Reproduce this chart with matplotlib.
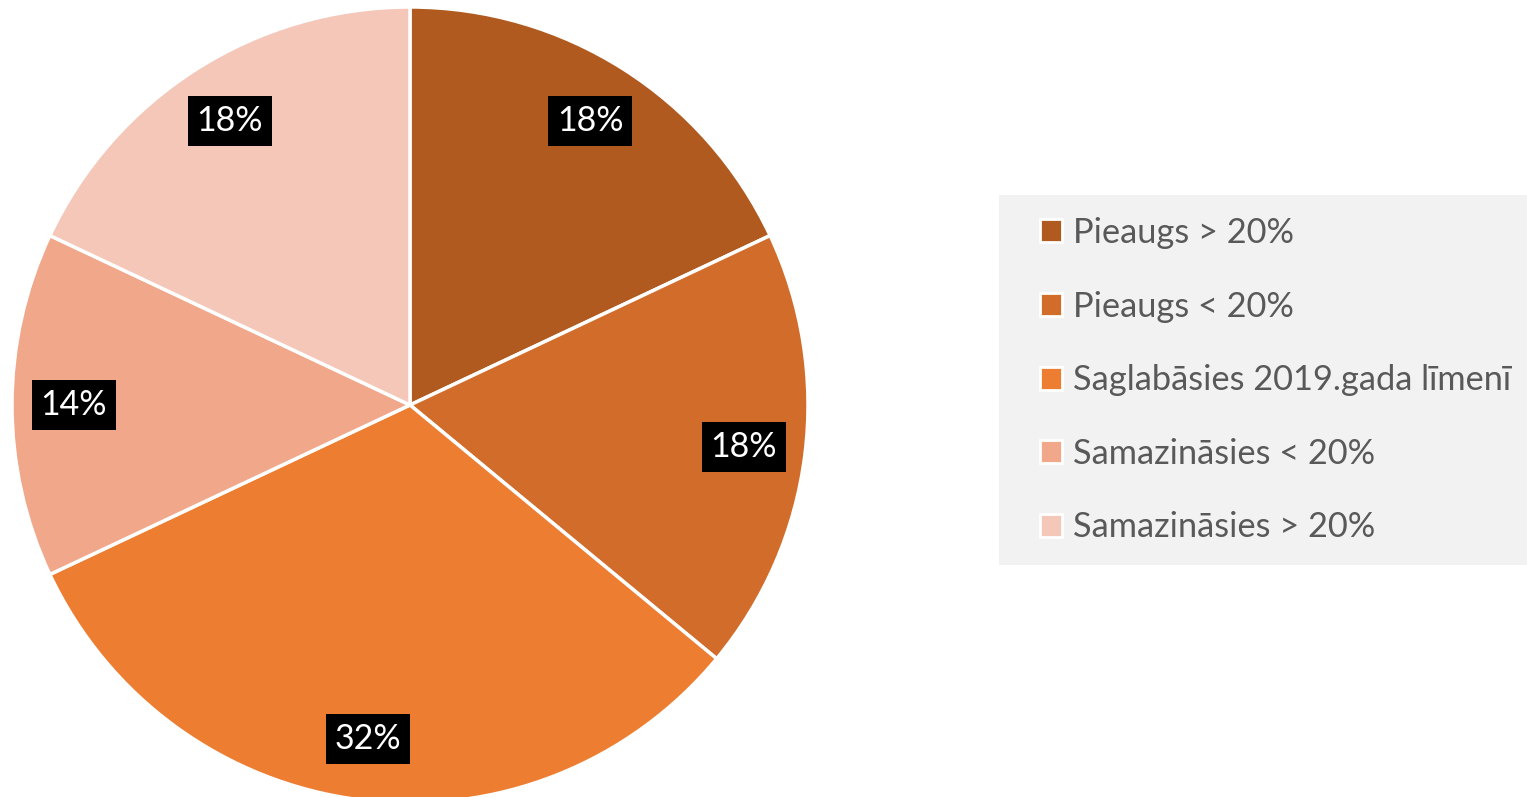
import matplotlib.pyplot as plt
from matplotlib.patches import Rectangle

# data
labels = ['Pieaugs > 20%', 'Pieaugs < 20%', 'Saglabāsies 2019.gada līmenī',
          'Samazināsies < 20%', 'Samazināsies > 20%']
shares = [18, 18, 32, 14, 18]
colors = ['#B05A20', '#D26C2A', '#ED7D31', '#F0A78A', '#F4C7B9']

plt.rcParams['font.family'] = ['Lato', 'DejaVu Sans']

W, H = 1527, 797
fig = plt.figure(figsize=(W / 100, H / 100), dpi=100)
ax = fig.add_axes([0, 0, 1, 1])

wedges, texts, autotexts = ax.pie(
    shares, colors=colors, center=(410, H - 405), radius=398,
    startangle=90, counterclock=False, frame=True,
    autopct=lambda p: f'{p:.0f}%', pctdistance=0.845,
    wedgeprops=dict(edgecolor='white', linewidth=2.5),
    textprops=dict(color='white', fontsize=24.5))
for t in autotexts:
    t.set_bbox(dict(facecolor='black', edgecolor='none', boxstyle='square,pad=0.26'))
ax.set_xlim(0, W)
ax.set_ylim(0, H)
ax.set_aspect('equal')
ax.axis('off')

# legend panel
ax.add_patch(Rectangle((999, H - 565), W - 999, 370, facecolor='#F2F2F2',
                       edgecolor='none', zorder=0))
leg = ax.legend(wedges, labels, loc='upper left',
                bbox_to_anchor=(1040 / W, (H - 217) / H),
                frameon=False, fontsize=24.75, labelcolor='#595959',
                handlelength=0.65, handleheight=0.65, handletextpad=0.3,
                labelspacing=1.21, borderpad=0, borderaxespad=0)
for h in leg.legend_handles:
    h.set_edgecolor('white')
    h.set_linewidth(2)

fig.savefig('out.png', dpi=100)
